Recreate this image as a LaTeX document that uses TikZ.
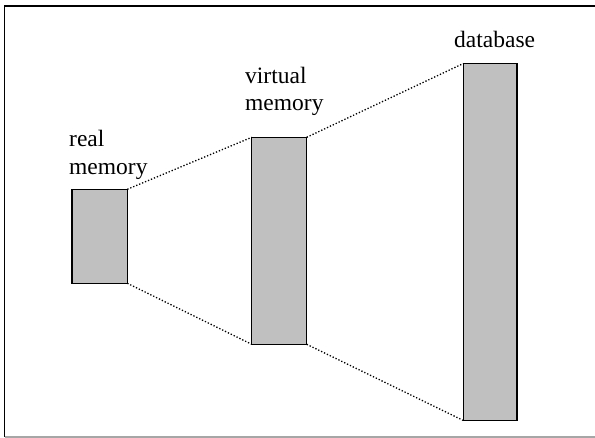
\documentclass[tikz,border=0pt]{standalone}
\usepackage{fontspec}
\setmainfont{Liberation Serif}
\begin{document}
\begin{tikzpicture}[x=1pt,y=-1pt,
  membox/.style={draw=black, line width=1.4pt, fill={rgb,255:red,192;green,192;blue,192},
                 inner sep=0pt, outer sep=0pt, anchor=north west},
  link/.style={line width=1.3pt, dash pattern=on 1.3pt off 1.9pt},
  lbl/.style={anchor=base west, inner sep=0pt, font=\fontsize{23.5}{28}\selectfont}]
  \useasboundingbox (0,0) rectangle (595,438);
  % frame
  \draw[line width=1.5pt, black] (4.5,437) -- (4.5,6) -- (595,6);
  \draw[line width=1.2pt, gray!70] (4.5,437) -- (595,437);

  % memory blocks
  \node[membox, minimum width=55.5pt, minimum height=94pt] (real) at (71.8,189.3) {};
  \node[membox, minimum width=55pt, minimum height=207pt] (virt) at (251.7,137.3) {};
  \node[membox, minimum width=53.5pt, minimum height=357pt] (db) at (463.3,63.5) {};

  % labels
  \node[lbl] (realA) at (69,147) {real};
  \node[lbl] (realB) at (69,175) {memory};
  \node[lbl] (virtA) at (245,84) {virtual};
  \node[lbl] (virtB) at (245,111) {memory};
  \node[lbl] (dbA) at (454,48) {database};

  % mapping lines
  \draw[link] (real.north east) -- (virt.north west);
  \draw[link] (real.south east) -- (virt.south west);
  \draw[link] (virt.north east) -- (db.north west);
  \draw[link] (virt.south east) -- (db.south west);
\end{tikzpicture}
\end{document}
